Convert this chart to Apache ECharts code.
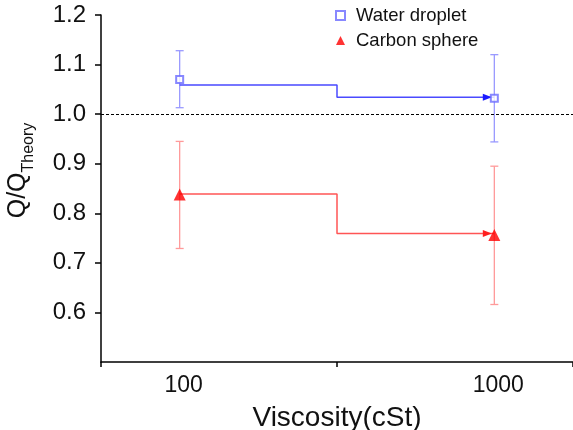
<!DOCTYPE html>
<html>
<head>
<meta charset="utf-8">
<script src="https://cdn.jsdelivr.net/npm/echarts@6/dist/echarts.min.js"></script>
<style>
  html, body { margin: 0; padding: 0; background: #fff; }
  #chart { width: 573px; height: 430px; }
</style>
</head>
<body>
<div id="chart"></div>
<script>
  // viscosity (cSt), plotted on a log10 value axis
  var viscosity = [100, 1000];
  var xTickLabels = [100, 1000];

  // water droplet: mean, error bar low/high, step fit
  var waterQ = [1.070, 1.032];
  var waterLow = [1.013, 0.944];
  var waterHigh = [1.128, 1.120];
  var waterFit = [1.059, 1.034];

  // carbon sphere
  var carbonQ = [0.838, 0.756];
  var carbonLow = [0.729, 0.616];
  var carbonHigh = [0.945, 0.895];
  var carbonFit = [0.839, 0.759];

  var theoryLine = 1.0;

  var FONT = 'Liberation Sans, Arial, sans-serif';
  var lg = function (v) { return Math.log10(v); };

  function pts(ys) {
    return viscosity.map(function (v, i) { return [lg(v), ys[i]]; });
  }
  function bars(lo, hi) {
    return viscosity.map(function (v, i) { return [lg(v), lo[i], hi[i]]; });
  }
  function fitLine(ys, color) {
    return ys.map(function (y, i) {
      var last = i === ys.length - 1;
      return {
        value: [lg(viscosity[i]), y],
        symbol: last ? 'triangle' : 'none',
        symbolSize: [7, 9],
        symbolRotate: -90,
        symbolOffset: [-7, 0],
        itemStyle: { color: color }
      };
    });
  }
  function errorBar(color) {
    return function (params, api) {
      var x = api.value(0);
      var top = api.coord([x, api.value(2)]);
      var bot = api.coord([x, api.value(1)]);
      var w = 4;
      var st = { stroke: color, lineWidth: 1.3 };
      return {
        type: 'group',
        children: [
          { type: 'line', shape: { x1: top[0], y1: top[1], x2: bot[0], y2: bot[1] }, style: st },
          { type: 'line', shape: { x1: top[0] - w, y1: top[1], x2: top[0] + w, y2: top[1] }, style: st },
          { type: 'line', shape: { x1: bot[0] - w, y1: bot[1], x2: bot[0] + w, y2: bot[1] }, style: st }
        ]
      };
    };
  }

  var myChart = echarts.init(document.getElementById('chart'));
  myChart.setOption({
    animation: false,
    textStyle: { fontFamily: FONT },
    grid: { left: 101, right: 0, top: 15, bottom: 68, containLabel: false, outerBoundsMode: 'none' },
    legend: {
      orient: 'vertical',
      left: 330,
      top: 1,
      itemWidth: 9,
      itemHeight: 9,
      itemGap: 6,
      data: ['Water droplet', 'Carbon sphere'],
      textStyle: { fontSize: 18.5, color: '#111', fontFamily: FONT, padding: [0, 0, 0, 6] }
    },
    xAxis: {
      type: 'value',
      min: 1.75,
      max: 3.25,
      interval: 0.75,
      splitLine: { show: false },
      axisLine: { lineStyle: { color: '#000', width: 1.5 } },
      axisTick: { length: 5, customValues: [1.75, 2.5, 3.25], lineStyle: { color: '#000', width: 1.5 } },
      axisLabel: {
        customValues: xTickLabels.map(lg),
        formatter: function (v) { return String(Math.round(Math.pow(10, v))); },
        fontSize: 23,
        margin: 12,
        padding: [0, 0, 0, 8],
        color: '#111'
      },
      name: 'Viscosity(cSt)',
      nameLocation: 'middle',
      nameGap: 42,
      nameTextStyle: { fontSize: 28, color: '#111' }
    },
    yAxis: {
      type: 'value',
      min: 0.5,
      max: 1.2,
      interval: 0.1,
      splitLine: { show: false },
      axisLine: { show: true, lineStyle: { color: '#000', width: 1.5 } },
      axisTick: { show: true, length: 6, lineStyle: { color: '#000', width: 1.5 } },
      axisLabel: {
        showMinLabel: false,
        formatter: function (v) { return v.toFixed(1); },
        fontSize: 24,
        margin: 15,
        color: '#111'
      },
      name: '{q|Q/Q}{s|Theory}',
      nameLocation: 'middle',
      nameRotate: 90,
      nameGap: 64,
      nameTextStyle: {
        color: '#111',
        padding: [0, 0, 0, 36],
        rich: {
          q: { fontSize: 25, color: '#111', verticalAlign: 'bottom', padding: [0, 0, 6, 0] },
          s: { fontSize: 16, color: '#111', verticalAlign: 'bottom' }
        }
      }
    },
    series: [
      {
        name: 'Water droplet fit',
        type: 'line',
        step: 'middle',
        data: fitLine(waterFit, '#1a1aff'),
        lineStyle: { color: '#4a4aff', width: 1.5 },
        z: 3,
        markLine: {
          silent: true,
          symbol: 'none',
          label: { show: false },
          lineStyle: { color: '#000', type: [3, 2], width: 1 },
          data: [{ yAxis: theoryLine }]
        }
      },
      {
        name: 'Carbon sphere fit',
        type: 'line',
        step: 'middle',
        data: fitLine(carbonFit, '#ff2020'),
        lineStyle: { color: '#ff5555', width: 1.5 },
        z: 3
      },
      {
        name: 'Water droplet err',
        type: 'custom',
        renderItem: errorBar('#9a9aff'),
        encode: { x: 0, y: [1, 2] },
        data: bars(waterLow, waterHigh),
        z: 2
      },
      {
        name: 'Carbon sphere err',
        type: 'custom',
        renderItem: errorBar('#ff9a9a'),
        encode: { x: 0, y: [1, 2] },
        data: bars(carbonLow, carbonHigh),
        z: 2
      },
      {
        name: 'Water droplet',
        type: 'scatter',
        symbol: 'emptyRect',
        symbolSize: 7,
        itemStyle: { color: '#6a6aff', borderColor: '#6a6aff', borderWidth: 1 },
        data: pts(waterQ),
        z: 5
      },
      {
        name: 'Carbon sphere',
        type: 'scatter',
        symbol: 'triangle',
        symbolSize: 12,
        itemStyle: { color: '#ff0000' },
        data: pts(carbonQ),
        z: 5
      }
    ]
  });
</script>
</body>
</html>
